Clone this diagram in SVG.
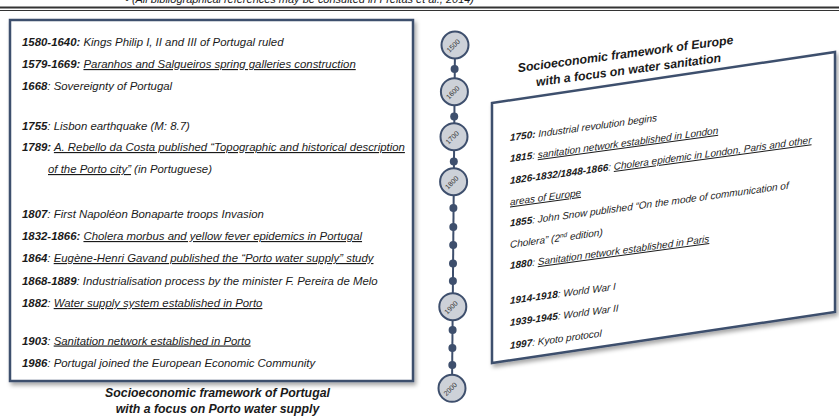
<svg xmlns="http://www.w3.org/2000/svg" width="839" height="416" viewBox="0 0 839 416">
<defs>
<filter id="sh" x="-5%" y="-5%" width="115%" height="115%">
<feDropShadow dx="2" dy="3" stdDeviation="2" flood-color="#000" flood-opacity="0.35"/>
</filter>
<style>
text{font-family:"Liberation Sans",Arial,sans-serif;fill:#1a1a1a}
.t{font-size:11.4px;font-style:italic}
.r{font-size:10px;font-style:italic}
.b{font-weight:bold}
.u{text-decoration:underline}
.cap{font-size:12.3px;font-style:italic;font-weight:bold;text-anchor:middle}
.yr{font-size:7px;text-anchor:middle;fill:#333}
.box{fill:#fff;stroke:#3e4f6d;stroke-width:2.5}
.tl{stroke:#3e4f6d;stroke-width:2;fill:none}
.c{fill:#cdd1d8;stroke:#3e4f6d;stroke-width:2}
.d{fill:#3e4f6d}
</style>
</defs>
<rect width="839" height="416" fill="#fff"/>
<g id="header">
<text x="125" y="3" style="font-size:11px;font-style:italic" textLength="349" lengthAdjust="spacingAndGlyphs">• (All bibliographical references may be consulted in Freitas et al., 2014)</text>
<line x1="0" y1="7.5" x2="839" y2="7.5" stroke="#333" stroke-width="2"/>
<line x1="0" y1="10.5" x2="839" y2="10.5" stroke="#333" stroke-width="1"/>
</g>
<g id="portugal">
<rect class="box" x="10" y="20" width="403" height="361" filter="url(#sh)"/>
<text class="t" x="22" y="46"><tspan class="b">1580-1640:</tspan> Kings Philip I, II and III of Portugal ruled</text>
<text class="t" x="22" y="68"><tspan class="b">1579-1669:</tspan> <tspan class="u">Paranhos and Salgueiros spring galleries construction</tspan></text>
<text class="t" x="22" y="90"><tspan class="b">1668</tspan>: Sovereignty of Portugal</text>
<text class="t" x="22" y="130"><tspan class="b">1755</tspan>: Lisbon earthquake (M: 8.7)</text>
<text class="t" x="22" y="151"><tspan class="b">1789:</tspan> <tspan class="u">A. Rebello da Costa published “Topographic and historical description</tspan></text>
<text class="t" x="48" y="173"><tspan class="u">of the Porto city”</tspan> (in Portuguese)</text>
<text class="t" x="22" y="218"><tspan class="b">1807</tspan>: First Napoléon Bonaparte troops Invasion</text>
<text class="t" x="22" y="240"><tspan class="b">1832-1866:</tspan> <tspan class="u">Cholera morbus and yellow fever epidemics in Portugal</tspan></text>
<text class="t" x="22" y="262"><tspan class="b">1864</tspan>: <tspan class="u">Eugène-Henri Gavand published the “Porto water supply” study</tspan></text>
<text class="t" x="22" y="285"><tspan class="b">1868-1889</tspan>: Industrialisation process by the minister F. Pereira de Melo</text>
<text class="t" x="22" y="307"><tspan class="b">1882</tspan>: <tspan class="u">Water supply system established in Porto</tspan></text>
<text class="t" x="22" y="344.5"><tspan class="b">1903</tspan>: <tspan class="u">Sanitation network established in Porto</tspan></text>
<text class="t" x="22" y="367"><tspan class="b">1986</tspan>: Portugal joined the European Economic Community</text>
<text class="cap" x="217.5" y="397">Socioeconomic framework of Portugal</text>
<text class="cap" x="217.5" y="413">with a focus on Porto water supply</text>
</g>
<g id="connectors">
<line class="tl" x1="455" y1="45" x2="452" y2="388"/>
</g>
<g id="timeline">
<circle class="d" cx="454.6" cy="69" r="4"/>
<circle class="d" cx="454.2" cy="116.5" r="4"/>
<circle class="d" cx="453.8" cy="161.5" r="4"/>
<circle class="d" cx="453.4" cy="208" r="4"/>
<circle class="d" cx="453.3" cy="227" r="4"/>
<circle class="d" cx="453.2" cy="245" r="4"/>
<circle class="d" cx="453" cy="263.5" r="4"/>
<circle class="d" cx="452.9" cy="281" r="4"/>
<circle class="d" cx="452.6" cy="330" r="4"/>
<circle class="d" cx="452.4" cy="348" r="4"/>
<circle class="d" cx="452.3" cy="365" r="4"/>
<g id="y1500"><circle class="c" cx="455" cy="45" r="13.5"/><text class="yr" transform="translate(455,47.5) rotate(-45)">1500</text></g>
<g id="y1600"><circle class="c" cx="454.4" cy="91.7" r="13.5"/><text class="yr" transform="translate(454.4,94.2) rotate(-45)">1600</text></g>
<g id="y1700"><circle class="c" cx="454" cy="136.7" r="13.5"/><text class="yr" transform="translate(454,139.2) rotate(-45)">1700</text></g>
<g id="y1800"><circle class="c" cx="453.6" cy="181.7" r="13.5"/><text class="yr" transform="translate(453.6,184.2) rotate(-45)">1800</text></g>
<g id="y1900"><circle class="c" cx="452.8" cy="306.7" r="13.5"/><text class="yr" transform="translate(452.8,309.2) rotate(-45)">1900</text></g>
<g id="y2000"><circle class="c" cx="452" cy="388.3" r="13.5"/><text class="yr" transform="translate(452,390.8) rotate(-45)">2000</text></g>
</g>
<g id="europe">
<polygon class="box" points="492,103 835,52 835,312 492,363" filter="url(#sh)"/>
<g transform="translate(626,58) rotate(-7.5)"><text class="cap" x="0" y="0">Socioeconomic framework of Europe</text></g>
<g transform="translate(629,74) rotate(-7.5)"><text class="cap" x="0" y="0">with a focus on water sanitation</text></g>
<g transform="translate(510,0) skewY(-7.7)">
<text class="r" x="0" y="141"><tspan class="b">1750:</tspan> Industrial revolution begins</text>
<text class="r" x="0" y="162"><tspan class="b">1815</tspan>: <tspan class="u">sanitation network established in London</tspan></text>
<text class="r" x="0" y="184"><tspan class="b">1826-1832/1848-1866</tspan>: <tspan class="u">Cholera epidemic in London, Paris and other</tspan></text>
<text class="r" x="0" y="205.5"><tspan class="u">areas of Europe</tspan></text>
<text class="r" x="0" y="226.5"><tspan class="b">1855</tspan>: John Snow published “On the mode of communication of</text>
<text class="r" x="0" y="248">Cholera” (2<tspan style="font-size:6.5px" dy="-3.5">nd</tspan><tspan dy="3.5"> edition)</tspan></text>
<text class="r" x="0" y="269"><tspan class="b">1880</tspan>: <tspan class="u">Sanitation network established in Paris</tspan></text>
<text class="r" x="0" y="304"><tspan class="b">1914-1918</tspan>: World War I</text>
<text class="r" x="0" y="326"><tspan class="b">1939-1945</tspan>: World War II</text>
<text class="r" x="0" y="349"><tspan class="b">1997</tspan>: Kyoto protocol</text>
</g>
</g>
</svg>
